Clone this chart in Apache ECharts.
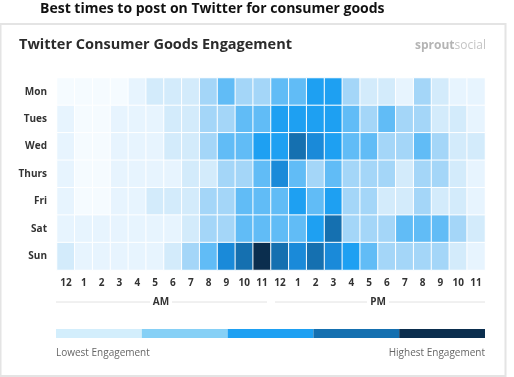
<!DOCTYPE html>
<html>
<head>
<meta charset="utf-8">
<script src="https://cdn.jsdelivr.net/npm/echarts@6/dist/echarts.min.js"></script>
<style>
html, body { margin: 0; padding: 0; background: #fff; }
#chart { width: 514px; height: 377px; }
</style>
</head>
<body>
<div id="chart"></div>
<script>
// hours and days
const hours = ['12', '1', '2', '3', '4', '5', '6', '7', '8', '9', '10', '11',
               '12', '1', '2', '3', '4', '5', '6', '7', '8', '9', '10', '11'];
const days = ['Mon', 'Tues', 'Wed', 'Thurs', 'Fri', 'Sat', 'Sun'];

// engagement level per hour (0 = lowest, 8 = highest)
const mon   = [0,0,0,0,1,2,2,2,3,4,3,3,4,4,5,5,3,2,2,1,3,2,1,1];
const tues  = [1,0,0,1,1,1,2,2,3,3,4,4,5,5,5,5,4,3,4,3,3,2,2,1];
const wed   = [1,0,0,1,1,1,2,2,3,4,4,5,5,7,6,5,4,4,3,3,4,3,2,2];
const thurs = [1,0,0,1,1,1,1,2,2,3,3,4,6,4,3,4,3,3,3,2,3,3,2,1];
const fri   = [1,0,0,1,1,2,2,2,3,3,4,4,4,5,4,5,3,3,2,2,3,2,2,1];
const sat   = [1,1,1,1,1,1,1,2,3,3,4,4,4,4,5,7,3,3,3,4,4,4,3,2];
const sun   = [2,1,1,1,1,1,2,3,4,6,7,8,7,6,7,6,5,4,3,3,3,3,2,1];

const levelColors = ['#f5fbff', '#e7f4fe', '#d3ebfb', '#a4d6f8', '#61bcf6',
                     '#1ea0f2', '#1a8ad9', '#1570b0', '#0b2e4e'];
const legendColors = ['#d3eefc', '#86d0f6', '#1ea0f2', '#1570b0', '#0b2e4e'];

const rows = [mon, tues, wed, thurs, fri, sat, sun];
const data = [];
rows.forEach((row, d) => {
    row.forEach((v, h) => data.push([h, d, v]));
});

const chart = echarts.init(document.getElementById('chart'));

// legend bar pieces
const legendLeft = 56, legendRight = 485;
const segW = (legendRight - legendLeft) / legendColors.length;
const legendRects = legendColors.map((c, i) => ({
    type: 'rect',
    shape: { x: legendLeft + i * segW, y: 329, width: segW, height: 9 },
    style: { fill: c }
}));

const font = '"Open Sans", sans-serif';

chart.setOption({
    animation: false,
    textStyle: { fontFamily: font },
    grid: { left: 57, right: 29, top: 78, bottom: 107 },
    xAxis: {
        type: 'category',
        data: hours,
        axisLine: { show: false },
        axisTick: { show: false },
        axisLabel: { color: '#333', fontWeight: 'bold', fontSize: 10, margin: 8 },
        splitArea: { show: false }
    },
    yAxis: {
        type: 'category',
        data: days,
        inverse: true,
        axisLine: { show: false },
        axisTick: { show: false },
        axisLabel: { color: '#333', fontWeight: 'bold', fontSize: 10, margin: 10 }
    },
    visualMap: {
        show: false,
        type: 'continuous',
        min: 0,
        max: 8,
        dimension: 2,
        inRange: { color: levelColors }
    },
    series: [{
        type: 'heatmap',
        data: data,
        itemStyle: { borderColor: '#fff', borderWidth: 1 },
        emphasis: { disabled: true }
    }],
    graphic: [
        {
            type: 'text', left: 40, top: 2,
            style: { text: 'Best times to post on Twitter for consumer goods', fill: '#111', font: 'bold 14px ' + font }
        },
        {
            type: 'rect', z: -1,
            shape: { x: 0.5, y: 24, width: 505, height: 352 },
            style: { fill: '#fff', stroke: '#e4e4e4', lineWidth: 2 }
        },
        {
            type: 'text', left: 19, top: 37,
            style: { text: 'Twitter Consumer Goods Engagement', fill: '#2b2b2b', font: 'bold 14.5px ' + font }
        },
        {
            type: 'text', left: 415, top: 40,
            style: {
                text: '{a|sprout}{b|social}',
                rich: {
                    a: { fill: '#b4b4b4', fontWeight: 'bold', fontSize: 12, fontFamily: font },
                    b: { fill: '#c4c4c4', fontSize: 12, fontFamily: font }
                }
            }
        },
        // AM / PM group labels
        { type: 'line', shape: { x1: 56, y1: 302, x2: 150, y2: 302 }, style: { stroke: '#e2e2e2', lineWidth: 1 } },
        { type: 'line', shape: { x1: 172, y1: 302, x2: 267, y2: 302 }, style: { stroke: '#e2e2e2', lineWidth: 1 } },
        { type: 'text', x: 161, y: 302, style: { text: 'AM', fill: '#333', font: 'bold 10px ' + font, align: 'center', verticalAlign: 'middle' } },
        { type: 'line', shape: { x1: 275, y1: 302, x2: 367, y2: 302 }, style: { stroke: '#e2e2e2', lineWidth: 1 } },
        { type: 'line', shape: { x1: 389, y1: 302, x2: 485, y2: 302 }, style: { stroke: '#e2e2e2', lineWidth: 1 } },
        { type: 'text', x: 378, y: 302, style: { text: 'PM', fill: '#333', font: 'bold 10px ' + font, align: 'center', verticalAlign: 'middle' } },
        ...legendRects,
        { type: 'text', x: 56, y: 353, style: { text: 'Lowest Engagement', fill: '#666', font: '10px ' + font, verticalAlign: 'middle' } },
        { type: 'text', x: 485, y: 353, style: { text: 'Highest Engagement', fill: '#666', font: '10px ' + font, align: 'right', verticalAlign: 'middle' } }
    ]
});
</script>
</body>
</html>
